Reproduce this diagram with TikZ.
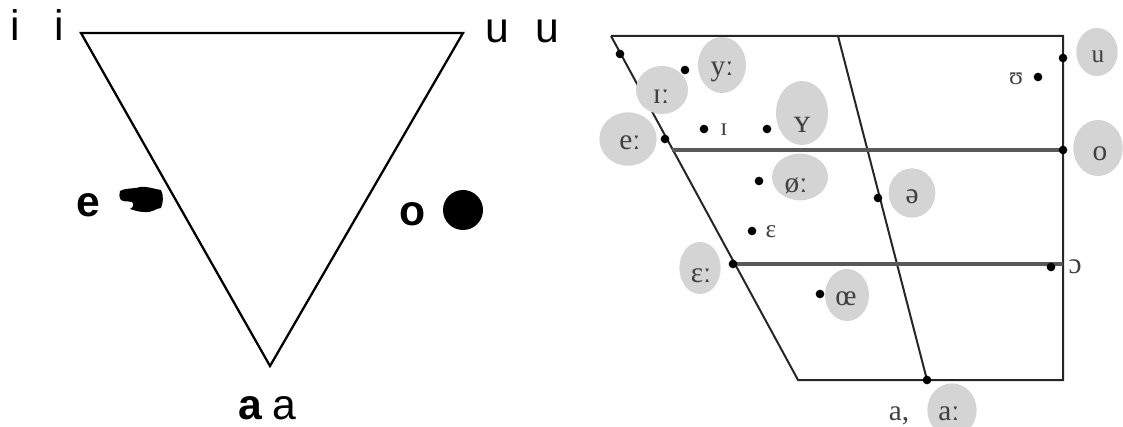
\documentclass[tikz,border=0pt]{standalone}
\usepackage{fontspec}
\setmainfont{Liberation Sans}
\newfontfamily\ipaserif{Liberation Serif}
\usetikzlibrary{shapes.geometric}
\definecolor{blobgray}{gray}{0.83}
\definecolor{inkgray}{gray}{0.25}
\tikzset{
  x=0.75pt,y=-0.75pt,
  big/.style={inner sep=0pt,anchor=base,font=\fontsize{32}{32}\selectfont},
  bigb/.style={big,font=\fontsize{32}{32}\selectfont\bfseries},
  blob/.style={ellipse,fill=blobgray,inner sep=0pt},
  glyph/.style={inner sep=0pt,text=inkgray,font=\ipaserif\fontsize{22}{22}\selectfont},
  small glyph/.style={glyph,font=\ipaserif\fontsize{19}{19}\selectfont},
  tri/.style={draw=black,line width=1.7pt,line join=miter},
  chart/.style={draw=black!85,line width=1.5pt},
  band/.style={draw=black!65,line width=2.3pt},
  dotm/.style={circle,fill=black,inner sep=0pt,minimum size=6.5pt}
}
\begin{document}
\begin{tikzpicture}
\useasboundingbox (0,0) rectangle (1123,427);
\clip (0,0) rectangle (1123,427);
% left triangle
\coordinate (tl) at (81,33); \coordinate (tr) at (463,33); \coordinate (tb) at (270,366);
\draw[tri] (tl) -- (tr) -- (tb) -- cycle;
\node[big] (i1) at (15,41) {i};
\node[big] (i2) at (59,41) {i};
\node[big] (u1) at (497,43) {u};
\node[big] (u2) at (547,43) {u};
\node[bigb] (e1) at (88,217) {e};
\node[bigb] (o1) at (413,226) {o};
\node[bigb] (a1) at (250,419) {a};
\node[big] (a2) at (284,419) {a};
% hand glyph
\fill (120,191) .. controls (124,188) and (134,189) .. (140,187)
  .. controls (147,186) and (154,189) .. (161,190)
  .. controls (164,196) and (163,203) .. (161,208)
  .. controls (156,208) and (153,213) .. (144,212)
  .. controls (138,212) and (134,210) .. (130,209)
  .. controls (134,207) and (134,204) .. (132,202)
  .. controls (128,201) and (124,202) .. (121,200)
  .. controls (119,197) and (119,194) .. (120,191) -- cycle;
\node[circle,fill=black,minimum size=30pt,inner sep=0pt] (bigdot) at (463,210) {};
% chart lines
\coordinate (c1) at (611,36); \coordinate (c2) at (1063,36);
\coordinate (c3) at (1063,380); \coordinate (c4) at (798,380);
\coordinate (c5) at (838,36); \coordinate (c6) at (927,380);
\coordinate (m1) at (672,150); \coordinate (m2) at (1063,150);
\coordinate (n1) at (733,264); \coordinate (n2) at (1063,264);
\draw[chart] (c1) -- (c2) -- (c3) -- (c4) -- (c1);
\draw[chart] (c5) -- (c6);
\draw[band] (m1) -- (m2);
\draw[band] (n1) -- (n2);
% blobs
\node[blob,minimum width=36pt,minimum height=42pt] (by) at (722,65) {};
\node[blob,minimum width=39pt,minimum height=36pt] (bi) at (662,90) {};
\node[blob,minimum width=43pt,minimum height=40pt] (be) at (628,139) {};
\node[blob,minimum width=39pt,minimum height=48pt] (bv) at (802,113) {};
\node[blob,minimum width=42pt,minimum height=35pt] (bo) at (800,177) {};
\node[blob,minimum width=31pt,minimum height=36pt] (bu) at (1097,52) {};
\node[blob,minimum width=37pt,minimum height=42pt] (bq) at (1098,148) {};
\node[blob,minimum width=35pt,minimum height=37pt] (bs) at (912,193) {};
\node[blob,minimum width=31pt,minimum height=39pt] (bE) at (700,268) {};
\node[blob,minimum width=33pt,minimum height=39pt] (bc) at (847,295) {};
\node[blob,minimum width=37pt,minimum height=40pt] (ba) at (952,410) {};
% glyphs
\node[glyph] (ty) at (722,72) {yː};
\node[glyph] (ti) at (661,97) {ɪː};
\node[glyph] (te) at (630,143) {eː};
\node[glyph,font=\ipaserif\fontsize{25}{25}\selectfont] (tv) at (802,125) {ʏ};
\node[glyph] (to) at (796,186) {øː};
\node[small glyph] (tu) at (1098,57) {u};
\node[glyph] (tq) at (1100,154) {o};
\node[glyph] (ts) at (912,197) {ə};
\node[glyph] (tE) at (701,276) {ɛː};
\node[glyph] (tc) at (846,299) {œ};
\node[glyph] (ta) at (949,414) {aː};
\node[small glyph] (li) at (724,130) {ɪ};
\node[small glyph] (lE) at (771,232) {ɛ};
\node[small glyph] (lU) at (1016,79) {ʊ};
\node[glyph] (lO) at (1075,267) {ɔ};
\node[glyph] (la) at (899,416) {a,};
% dots
\foreach \n/\p in {d1/{620,54},d2/{685,70},d3/{665,139},d4/{704,129},d5/{767,129},d6/{759,181},d7/{752,231},d8/{733,264},d9/{820,294},d10/{878,198},d11/{1038,77},d12/{1063,58},d13/{1063,150},d14/{1051,267},d15/{927,380}}
  \node[dotm] (\n) at (\p) {};
\end{tikzpicture}
\end{document}
